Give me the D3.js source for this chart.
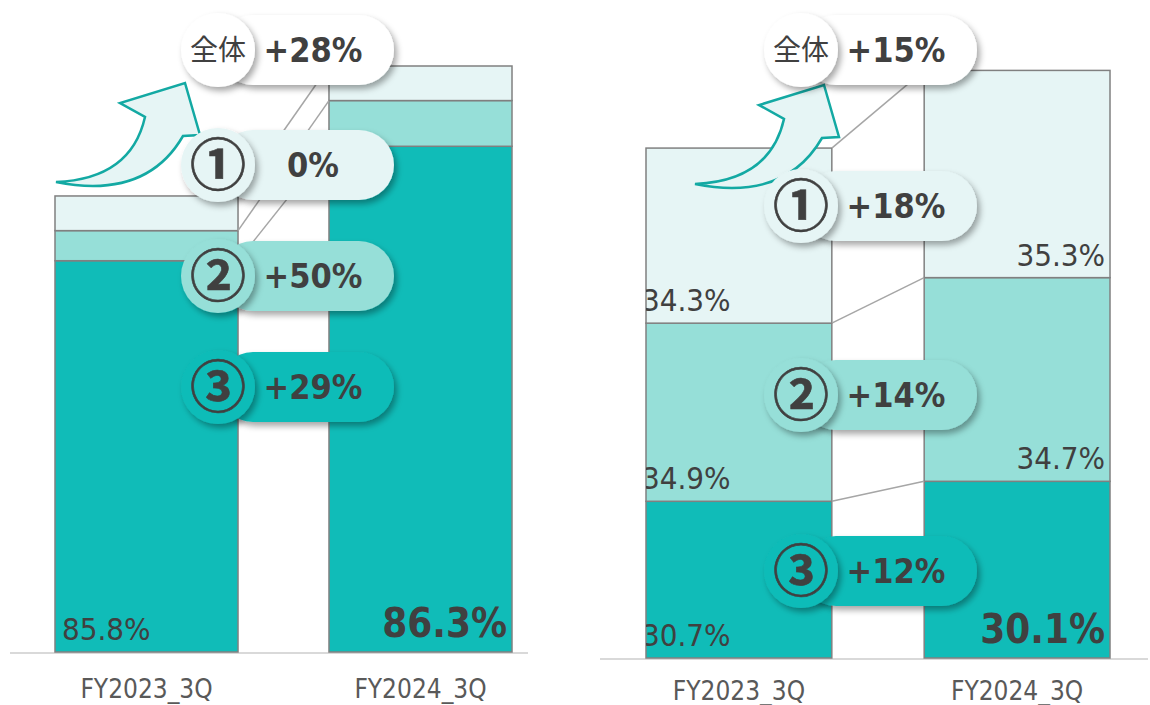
<!DOCTYPE html>
<html>
<head>
<meta charset="utf-8">
<script src="https://cdnjs.cloudflare.com/ajax/libs/d3/7.8.5/d3.min.js"></script>
<style>
body { margin: 0; background: #fff; }
text { font-family: 'DejaVu Sans Condensed', 'DejaVu Sans', sans-serif; fill: #404040; }
.jp { font-family: 'Noto Sans CJK JP', sans-serif; }
</style>
</head>
<body>
<div class="chart"></div>
<script>
var categories = ['FY2023_3Q', 'FY2024_3Q'];
var segments = ['③', '②', '①']; // stacked bottom to top

// left chart: overall index and share of each part (%)
var leftTotals = [100, 128.5];
var leftShare3 = [85.8, 86.3];
var leftShare2 = [6.6, 7.8];
var leftShare1 = [7.6, 5.9];
var leftGrowthTotal = '+28%';
var leftGrowth = ['+29%', '+50%', '0%']; // ③ ② ①

// right chart
var rightTotals = [100, 115];
var rightShare3 = [30.7, 30.1];
var rightShare2 = [34.9, 34.7];
var rightShare1 = [34.3, 35.3];
var rightGrowthTotal = '+15%';
var rightGrowth = ['+12%', '+14%', '+18%'];

var colors = ['#10bcb8', '#96dfd8', '#e6f5f5'];

var panels = [
    {
        totals: leftTotals, shares: [leftShare3, leftShare2, leftShare1],
        growthTotal: leftGrowthTotal, growth: leftGrowth,
        x0: 55, x1: 512, base: 652, top: 66, axisFrom: 10, axisTo: 528, tickPad: 28,
        labelKeys: ['③'], inset: 7,
        arrowAt: [56, 182], bubbleX: 218, bubbleY: [50, 387, 276, 165]
    },
    {
        totals: rightTotals, shares: [rightShare3, rightShare2, rightShare1],
        growthTotal: rightGrowthTotal, growth: rightGrowth,
        x0: 646, x1: 1110, base: 658, top: 71, axisFrom: 600, axisTo: 1148, tickPad: 24,
        labelKeys: ['③', '②', '①'], inset: -4,
        arrowAt: [695, 184], bubbleX: 801, bubbleY: [50, 571, 395, 206]
    }
];

var svg = d3.select('.chart')
    .append('svg')
    .attr('width', 1150)
    .attr('height', 705);

var defs = svg.append('defs');
var shadow = defs.append('filter')
    .attr('id', 'shadow')
    .attr('x', '-30%').attr('y', '-30%')
    .attr('width', '160%').attr('height', '170%');
shadow.append('feDropShadow')
    .attr('dx', 3).attr('dy', 4)
    .attr('stdDeviation', 3)
    .attr('flood-color', '#000')
    .attr('flood-opacity', 0.35);

var fmt = d3.format('.1f');
var arrowPath = 'M0,0 Q75,-3 89,-65 L64,-79 L129,-99 L144,-47 L127,-46 Q90,18 0,0 Z';

panels.forEach(function (p, pi) {
    var rows = categories.map(function (c, i) {
        var row = { cat: c };
        segments.forEach(function (k, j) {
            row[k] = p.totals[i] * p.shares[j][i] / 100;
        });
        return row;
    });
    var stacked = d3.stack().keys(segments)(rows);

    var x = d3.scaleBand()
        .domain(categories)
        .range([p.x0, p.x1])
        .paddingInner(0.332)
        .paddingOuter(0);
    var bw = x.bandwidth();

    var y = d3.scaleLinear()
        .domain([0, d3.max(p.totals)])
        .range([p.base, p.top]);

    var g = svg.append('g');

    // baseline + category labels
    g.append('line')
        .attr('x1', p.axisFrom).attr('x2', p.axisTo)
        .attr('y1', p.base + 1).attr('y2', p.base + 1)
        .style('stroke', '#d9d9d9')
        .style('stroke-width', 2);

    var axis = g.append('g')
        .attr('transform', `translate(0, ${p.base})`)
        .call(d3.axisBottom(x).tickSize(0).tickPadding(p.tickPad));
    axis.select('.domain').remove();
    axis.attr('font-family', null).attr('font-size', null);
    axis.selectAll('text')
        .style('font-size', '26px')
        .style('fill', '#595959');

    // stacked segments
    stacked.forEach(function (layer, j) {
        g.selectAll('.seg' + j)
            .data(layer)
            .enter()
            .append('rect')
            .attr('x', d => x(d.data.cat))
            .attr('y', d => y(d[1]))
            .attr('width', bw)
            .attr('height', d => y(d[0]) - y(d[1]))
            .style('fill', colors[j])
            .style('stroke', '#808080')
            .style('stroke-width', 1.5);
    });

    // connectors between the tops of each segment
    stacked.forEach(function (layer) {
        g.append('line')
            .attr('x1', x(categories[0]) + bw)
            .attr('y1', y(layer[0][1]))
            .attr('x2', x(categories[1]))
            .attr('y2', y(layer[1][1]))
            .style('stroke', '#a6a6a6')
            .style('stroke-width', 1.5);
    });

    // value labels, clipped to the bars
    categories.forEach(function (c, i) {
        var id = 'clip' + pi + '_' + i;
        defs.append('clipPath').attr('id', id)
            .append('rect')
            .attr('x', x(c)).attr('y', y(p.totals[i]))
            .attr('width', bw).attr('height', p.base - y(p.totals[i]));
        var lg = g.append('g').attr('clip-path', `url(#${id})`);
        p.labelKeys.forEach(function (k) {
            var j = segments.indexOf(k);
            var d = stacked[j][i];
            var big = (i === 1 && j === 0);
            lg.append('text')
                .attr('x', i === 0 ? x(c) + p.inset : x(c) + bw - 5)
                .attr('y', y(d[0]) - (big ? 15 : 12))
                .attr('text-anchor', i === 0 ? 'start' : 'end')
                .style('font-size', big ? '40px' : '31px')
                .style('font-weight', big ? 'bold' : 'normal')
                .text(fmt(p.shares[j][i]) + '%');
        });
    });

    // growth arrow
    g.append('path')
        .attr('d', arrowPath)
        .attr('transform', `translate(${p.arrowAt[0]}, ${p.arrowAt[1]})`)
        .style('fill', '#e6f5f5')
        .style('stroke', '#13a9a3')
        .style('stroke-width', 2.5)
        .style('stroke-linejoin', 'miter');

    // growth bubbles: total first, then ③ ② ①
    var bubbles = [{ name: '全体', value: p.growthTotal, fill: '#ffffff' }];
    segments.forEach(function (k, j) {
        bubbles.push({ name: k, value: p.growth[j], fill: colors[j] });
    });

    bubbles.forEach(function (b, bi) {
        var cy = p.bubbleY[bi];
        var bg = g.append('g');
        bg.append('rect')
            .attr('x', p.bubbleX)
            .attr('y', cy - 35)
            .attr('width', 176)
            .attr('height', 70)
            .attr('rx', 35)
            .style('fill', b.fill)
            .attr('filter', 'url(#shadow)');
        bg.append('circle')
            .attr('cx', p.bubbleX)
            .attr('cy', cy)
            .attr('r', 37)
            .style('fill', b.fill)
            .attr('filter', 'url(#shadow)');
        bg.append('text')
            .attr('class', 'jp')
            .attr('x', p.bubbleX)
            .attr('y', cy)
            .attr('dy', '0.35em')
            .attr('text-anchor', 'middle')
            .style('font-size', bi === 0 ? '28px' : '56px')
            .style('font-weight', bi === 0 ? 'normal' : 'bold')
            .style('stroke', bi === 0 ? 'none' : '#404040')
            .style('stroke-width', 0.6)
            .text(b.name);
        bg.append('text')
            .attr('x', p.bubbleX + 95)
            .attr('y', cy)
            .attr('dy', '0.36em')
            .attr('text-anchor', 'middle')
            .style('font-size', '34px')
            .style('font-weight', 'bold')
            .text(b.value);
    });
});
</script>
</body>
</html>
